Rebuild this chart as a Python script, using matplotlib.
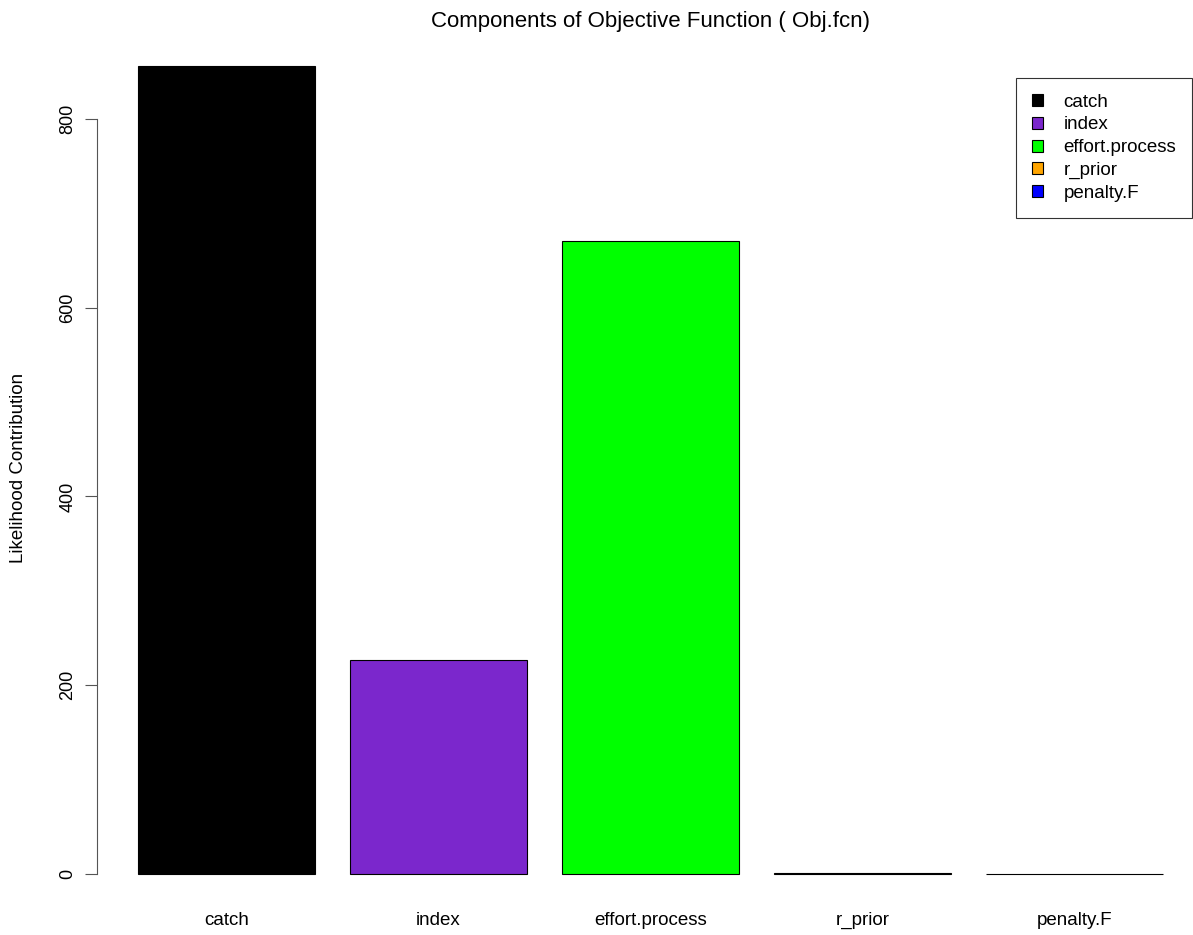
import matplotlib.pyplot as plt
from matplotlib.patches import Patch

plt.rcParams['font.family'] = ['Liberation Sans', 'DejaVu Sans']

# Objective function components
components = ["catch", "index", "effort.process", "r_prior", "penalty.F"]
values = [856, 227, 671, 1, 0]
colors = ["black", "#7B27CC", "#00FF00", "orange", "blue"]
yticks = [0, 200, 400, 600, 800]

fig = plt.figure(figsize=(11.93, 9.35), dpi=100)
ax = fig.add_axes([0.0813, 0.031, 0.928, 0.9326])

# R-style barplot: width 1, space 0.2
x = [0.7 + 1.2 * i for i in range(len(values))]
ax.bar(x, values, width=1.0, color=colors, edgecolor="black", linewidth=0.8)

ax.set_xlim(-0.032, 6.232)
ax.set_ylim(-0.04 * max(values), 1.04 * max(values))

for s in ["top", "right", "bottom"]:
    ax.spines[s].set_visible(False)
ax.spines["left"].set_bounds(0, 800)
ax.spines["left"].set_color("#555555")

ax.set_yticks(yticks)
ax.set_yticklabels([str(t) for t in yticks], rotation=90, va="center", fontsize=13)
ax.tick_params(axis="y", length=9, width=0.8, color="#555555", pad=6)

ax.set_xticks(x)
ax.set_xticklabels(components, fontsize=13.5)
ax.tick_params(axis="x", length=0, pad=4)

fig.text(0.008, 0.5, "Likelihood Contribution", rotation=90, va="center", ha="left", fontsize=13.5)
fig.text(0.545, 0.977, "Components of Objective Function ( Obj.fcn)", ha="center", va="center", fontsize=16)

handles = [Patch(facecolor=c, edgecolor="black", linewidth=0.8) for c in colors]
leg = fig.legend(handles, components, loc="upper right", bbox_to_anchor=(0.9995, 0.917),
                 fontsize=13.5, frameon=True, fancybox=False, handlelength=0.6, handleheight=0.6,
                 handletextpad=1.1, labelspacing=0.31, borderpad=0.85, borderaxespad=0)
leg.get_frame().set_edgecolor("black")
leg.get_frame().set_linewidth(0.8)

fig.savefig("out.png", dpi=100)
